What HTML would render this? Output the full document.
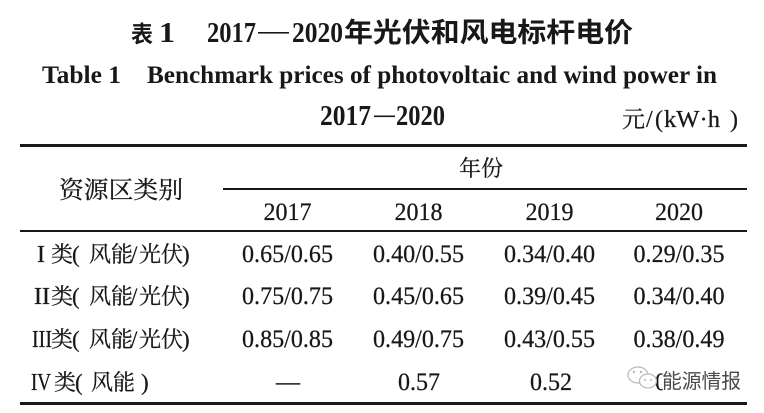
<!DOCTYPE html>
<html>
<head>
<meta charset="utf-8">
<style>
html,body{margin:0;padding:0;background:#fff;}
svg{display:block;}
.cjk{font-family:"Liberation Serif","Noto Serif CJK SC",serif;}
.num{font-family:"Liberation Serif","Noto Serif CJK SC",serif;}
.hei{font-family:"Liberation Sans","Noto Sans CJK SC",sans-serif;}
</style>
</head>
<body>
<svg width="764" height="413" viewBox="0 0 764 413" xmlns="http://www.w3.org/2000/svg" fill="#1a1718">
  <!-- Title line 1 -->
  <text class="hei" x="131" y="42" font-size="23" font-weight="700" textLength="22" lengthAdjust="spacingAndGlyphs">表</text>
  <text class="num" x="159" y="42" font-size="28" font-weight="700" textLength="16" lengthAdjust="spacingAndGlyphs">1</text>
  <text class="num" x="207" y="42" font-size="28" font-weight="700" textLength="49" lengthAdjust="spacingAndGlyphs">2017</text>
  <rect x="258" y="32" width="31" height="1.6"/>
  <text class="num" x="292" y="42" font-size="28" font-weight="700" textLength="51" lengthAdjust="spacingAndGlyphs">2020</text>
  <text class="hei" x="344" y="42" font-size="27" font-weight="700" textLength="289" lengthAdjust="spacingAndGlyphs">年光伏和风电标杆电价</text>

  <!-- English title -->
  <text class="num" x="42" y="83" font-size="25" font-weight="700" textLength="79" lengthAdjust="spacingAndGlyphs">Table 1</text>
  <text class="num" x="147" y="83" font-size="25" font-weight="700" textLength="570" lengthAdjust="spacingAndGlyphs">Benchmark prices of photovoltaic and wind power in</text>

  <!-- Line 3 -->
  <text class="num" x="320" y="125" font-size="28" font-weight="700" textLength="51" lengthAdjust="spacingAndGlyphs">2017</text>
  <rect x="374" y="115.5" width="21" height="1.6"/>
  <text class="num" x="396" y="125" font-size="28" font-weight="700" textLength="49" lengthAdjust="spacingAndGlyphs">2020</text>
  <g stroke="#1a1718" stroke-width="0.25">
    <text class="cjk" x="622" y="127" font-size="23">元</text>
    <text class="num" x="646" y="127" font-size="24">/</text>
    <text class="num" x="655" y="127" font-size="24">(</text>
    <text class="num" x="664" y="127" font-size="24" textLength="56" lengthAdjust="spacingAndGlyphs">kW·h</text>
    <text class="num" x="730" y="127" font-size="24">)</text>
  </g>

  <!-- Rules -->
  <rect x="20" y="144" width="727" height="3"/>
  <rect x="223" y="188" width="524" height="2"/>
  <rect x="20" y="230" width="727" height="2"/>
  <rect x="20" y="402" width="727" height="3"/>

  <g stroke="#1a1718" stroke-width="0.25">
  <!-- Header -->
  <text class="cjk" x="459" y="176" font-size="22" textLength="44" lengthAdjust="spacingAndGlyphs">年份</text>
  <text class="cjk" x="59" y="198" font-size="24" textLength="124" lengthAdjust="spacingAndGlyphs">资源区类别</text>

  <g class="num" font-size="25" text-anchor="middle">
    <text x="287.5" y="220" textLength="48" lengthAdjust="spacingAndGlyphs">2017</text>
    <text x="418.5" y="220" textLength="48" lengthAdjust="spacingAndGlyphs">2018</text>
    <text x="549.5" y="220" textLength="48" lengthAdjust="spacingAndGlyphs">2019</text>
    <text x="679" y="220" textLength="48" lengthAdjust="spacingAndGlyphs">2020</text>
  </g>

  <!-- Row labels -->
  <g class="num" font-size="24">
    <text x="37" y="262" textLength="8" lengthAdjust="spacingAndGlyphs">I</text>
    <text x="34" y="304" textLength="16" lengthAdjust="spacingAndGlyphs">II</text>
    <text x="32" y="347" textLength="20" lengthAdjust="spacingAndGlyphs">III</text>
    <text x="31" y="390" textLength="20" lengthAdjust="spacingAndGlyphs">IV</text>
  </g>
  <g class="cjk" font-size="22">
    <text x="51" y="262">类</text><text class="num" x="72" y="262" font-size="23">(</text><text x="89" y="262">风</text><text x="111" y="262">能</text><text class="num" x="131" y="262" font-size="23">/</text><text x="139" y="262">光</text><text x="161" y="262">伏</text><text class="num" x="182" y="262" font-size="23">)</text>
    <text x="51" y="304">类</text><text class="num" x="72" y="304" font-size="23">(</text><text x="89" y="304">风</text><text x="111" y="304">能</text><text class="num" x="131" y="304" font-size="23">/</text><text x="139" y="304">光</text><text x="161" y="304">伏</text><text class="num" x="182" y="304" font-size="23">)</text>
    <text x="51" y="347">类</text><text class="num" x="72" y="347" font-size="23">(</text><text x="89" y="347">风</text><text x="111" y="347">能</text><text class="num" x="131" y="347" font-size="23">/</text><text x="139" y="347">光</text><text x="161" y="347">伏</text><text class="num" x="182" y="347" font-size="23">)</text>
    <text x="54" y="390">类</text><text class="num" x="75" y="390" font-size="23">(</text><text x="91" y="390">风</text><text x="113" y="390">能</text><text class="num" x="141" y="390" font-size="23">)</text>
  </g>

  <!-- Data -->
  <g class="num" font-size="25.5" text-anchor="middle">
    <text x="287.5" y="262" textLength="91" lengthAdjust="spacingAndGlyphs">0.65/0.65</text>
    <text x="418.5" y="262" textLength="91" lengthAdjust="spacingAndGlyphs">0.40/0.55</text>
    <text x="549.5" y="262" textLength="91" lengthAdjust="spacingAndGlyphs">0.34/0.40</text>
    <text x="679" y="262" textLength="91" lengthAdjust="spacingAndGlyphs">0.29/0.35</text>

    <text x="287.5" y="304" textLength="91" lengthAdjust="spacingAndGlyphs">0.75/0.75</text>
    <text x="418.5" y="304" textLength="91" lengthAdjust="spacingAndGlyphs">0.45/0.65</text>
    <text x="549.5" y="304" textLength="91" lengthAdjust="spacingAndGlyphs">0.39/0.45</text>
    <text x="679" y="304" textLength="91" lengthAdjust="spacingAndGlyphs">0.34/0.40</text>

    <text x="287.5" y="347" textLength="91" lengthAdjust="spacingAndGlyphs">0.85/0.85</text>
    <text x="418.5" y="347" textLength="91" lengthAdjust="spacingAndGlyphs">0.49/0.75</text>
    <text x="549.5" y="347" textLength="91" lengthAdjust="spacingAndGlyphs">0.43/0.55</text>
    <text x="679" y="347" textLength="91" lengthAdjust="spacingAndGlyphs">0.38/0.49</text>

    <text x="288" y="390" textLength="24" lengthAdjust="spacingAndGlyphs">—</text>
    <text x="419" y="390" textLength="42" lengthAdjust="spacingAndGlyphs">0.57</text>
    <text x="551" y="390" textLength="42" lengthAdjust="spacingAndGlyphs">0.52</text>
  </g>

  <!-- Watermark base digit -->
  <text class="num" x="655" y="390" font-size="25">0</text>
  </g>

  <!-- Watermark -->
  <g fill="#fff" stroke="#b8b8b8" stroke-width="1.2">
    <ellipse cx="638" cy="375" rx="10" ry="8"/>
    <ellipse cx="648" cy="381" rx="8.5" ry="7"/>
  </g>
  <g fill="#b8b8b8">
    <circle cx="634" cy="372" r="1.2"/>
    <circle cx="641" cy="372" r="1.2"/>
    <circle cx="645" cy="380" r="1"/>
    <circle cx="651" cy="380" r="1"/>
  </g>
  <text class="hei" x="662" y="388" font-size="20" fill="#4a4a4a" stroke="#fff" stroke-width="2.5" paint-order="stroke" textLength="79" lengthAdjust="spacingAndGlyphs">能源情报</text>
</svg>
</body>
</html>
